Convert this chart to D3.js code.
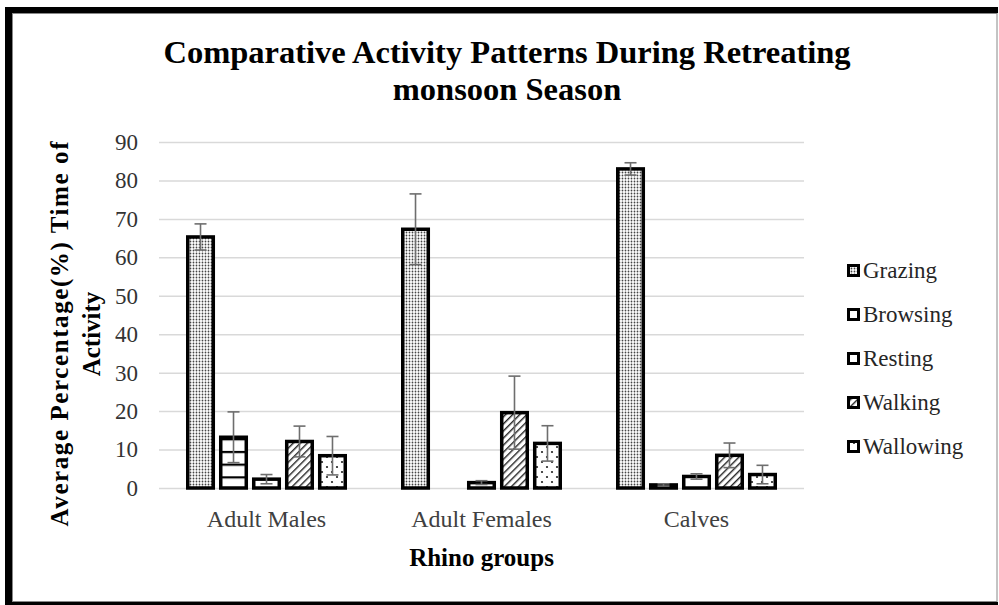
<!DOCTYPE html>
<html lang="en">
<head>
    <meta charset="UTF-8">
    <title>Comparative Activity Patterns</title>
    <script src="https://d3js.org/d3.v7.min.js"></script>
    <style>
        body { margin: 0; background: #fff; }
    </style>
</head>
<body>
    <div id="my_dataviz"></div>

    <script>

        // data
        const groups = ["Adult Males", "Adult Females", "Calves"];
        const series = ["Grazing", "Browsing", "Resting", "Walking", "Wallowing"];
        const meanGrazing   = [65.3, 67.3, 83.0];
        const meanBrowsing  = [13.2, 0, 0.8];
        const meanResting   = [2.3, 1.4, 3.0];
        const meanWalking   = [12.1, 19.6, 8.5];
        const meanWallowing = [8.4, 11.6, 3.5];
        const errGrazing    = [3.4, 9.2, 1.6];
        const errBrowsing   = [6.6, 0, 0.3];
        const errResting    = [1.2, 0.5, 0.7];
        const errWalking    = [4.0, 9.5, 3.2];
        const errWallowing  = [5.0, 4.6, 2.4];
        const yTicks = [0, 10, 20, 30, 40, 50, 60, 70, 80, 90];

        const means = [meanGrazing, meanBrowsing, meanResting, meanWalking, meanWallowing];
        const errs = [errGrazing, errBrowsing, errResting, errWalking, errWallowing];
        const data = [];
        series.forEach((s, i) => groups.forEach((g, j) => {
            data.push({group: g, series: s, value: means[i][j], err: errs[i][j]});
        }));

        const W = 999, H = 605;
        const plot = {left: 159, right: 804, top: 142, bottom: 488};
        const serif = "Liberation Serif";

        const svg = d3.select("#my_dataviz")
        .append("svg")
            .attr("width", W)
            .attr("height", H)
            .attr("font-family", serif);

        // frame
        svg.append("rect").attr("x", 12.5).attr("y", 13.5).attr("width", 984.5).attr("height", 588)
            .attr("fill", "none").attr("stroke", "#888").attr("stroke-width", 1);
        svg.append("rect").attr("x", 5).attr("y", 7).attr("width", 993).attr("height", 6).attr("fill", "#000");
        svg.append("rect").attr("x", 5).attr("y", 7).attr("width", 7).attr("height", 598).attr("fill", "#000");
        svg.append("rect").attr("x", 5).attr("y", 602).attr("width", 993).attr("height", 3).attr("fill", "#000");

        // scales
        const y = d3.scaleLinear()
        .domain([0, 90])
        .range([plot.bottom, plot.top]);

        const x0 = d3.scaleBand()
        .domain(groups)
        .range([plot.left, plot.right]);

        const x1 = d3.scaleBand()
        .domain(series)
        .range([27, 188])
        .paddingInner(0.12);

        // patterns
        const defs = svg.append("defs");
        const pDots = defs.append("pattern").attr("id", "p-Grazing")
            .attr("patternUnits", "userSpaceOnUse").attr("width", 3).attr("height", 3);
        pDots.append("rect").attr("width", 3).attr("height", 3).attr("fill", "#fff");
        pDots.append("circle").attr("cx", 1.5).attr("cy", 1.5).attr("r", 0.9).attr("fill", "#444");

        const pHoriz = defs.append("pattern").attr("id", "p-Browsing")
            .attr("patternUnits", "userSpaceOnUse").attr("width", 8).attr("height", 12.7)
            .attr("patternTransform", `translate(0,${y(0) + 1})`);
        pHoriz.append("rect").attr("width", 8).attr("height", 12.7).attr("fill", "#fff");
        pHoriz.append("rect").attr("width", 8).attr("height", 2.2).attr("fill", "#000");

        const pWhite = defs.append("pattern").attr("id", "p-Resting")
            .attr("patternUnits", "userSpaceOnUse").attr("width", 8).attr("height", 8);
        pWhite.append("rect").attr("width", 8).attr("height", 8).attr("fill", "#fff");

        const pDiag = defs.append("pattern").attr("id", "p-Walking")
            .attr("patternUnits", "userSpaceOnUse").attr("width", 5).attr("height", 5)
            .attr("patternTransform", "rotate(45)");
        pDiag.append("rect").attr("width", 5).attr("height", 5).attr("fill", "#fff");
        pDiag.append("rect").attr("width", 1.4).attr("height", 5).attr("fill", "#222");

        const pSparse = defs.append("pattern").attr("id", "p-Wallowing")
            .attr("patternUnits", "userSpaceOnUse").attr("width", 10).attr("height", 10);
        pSparse.append("rect").attr("width", 10).attr("height", 10).attr("fill", "#fff");
        pSparse.append("circle").attr("cx", 2).attr("cy", 2).attr("r", 1.1).attr("fill", "#222");
        pSparse.append("circle").attr("cx", 7).attr("cy", 7).attr("r", 1.1).attr("fill", "#222");

        // gridlines
        svg.append("g")
            .attr("transform", `translate(${plot.left},0)`)
            .call(d3.axisLeft(y).tickValues(yTicks).tickSize(-(plot.right - plot.left)).tickFormat(""))
            .call(g => g.select(".domain").remove())
            .selectAll("line")
                .attr("stroke", "#d9d9d9")
                .attr("stroke-width", 1.5);

        // Y axis labels
        svg.append("g")
            .attr("transform", `translate(${plot.left},0)`)
            .call(d3.axisLeft(y).tickValues(yTicks).tickSize(0).tickPadding(21))
            .attr("font-family", serif)
            .attr("font-size", 23)
            .call(g => g.select(".domain").remove())
            .selectAll("text")
                .attr("fill", "#333");

        // X axis labels
        svg.append("g")
            .attr("transform", `translate(0,${plot.bottom})`)
            .call(d3.axisBottom(x0).tickSize(0).tickPadding(22))
            .attr("font-family", serif)
            .attr("font-size", 24)
            .call(g => g.select(".domain").remove())
            .selectAll("text")
                .attr("fill", "#404040");

        // Bars
        const bars = svg.append("g");
        bars.selectAll("rect")
        .data(data)
        .join("rect")
            .attr("x", d => x0(d.group) + x1(d.series) + 1.75)
            .attr("y", d => y(d.value))
            .attr("width", x1.bandwidth() - 3.5)
            .attr("height", d => y(0) - y(d.value))
            .attr("fill", d => `url(#p-${d.series})`)
            .attr("stroke", "#000")
            .attr("stroke-width", 3.5);

        // error bars
        const eb = svg.append("g").attr("stroke", "#6e6e6e").attr("stroke-width", 1.6);
        const cx = d => x0(d.group) + x1(d.series) + x1.bandwidth() / 2;
        const withErr = data.filter(d => d.err > 0);
        eb.selectAll(".stem")
        .data(withErr)
        .join("line")
            .attr("x1", cx).attr("x2", cx)
            .attr("y1", d => y(d.value + d.err))
            .attr("y2", d => y(Math.max(0, d.value - d.err)));
        eb.selectAll(".capTop")
        .data(withErr)
        .join("line")
            .attr("x1", d => cx(d) - 6).attr("x2", d => cx(d) + 6)
            .attr("y1", d => y(d.value + d.err))
            .attr("y2", d => y(d.value + d.err));
        eb.selectAll(".capBot")
        .data(withErr)
        .join("line")
            .attr("x1", d => cx(d) - 6).attr("x2", d => cx(d) + 6)
            .attr("y1", d => y(Math.max(0, d.value - d.err)))
            .attr("y2", d => y(Math.max(0, d.value - d.err)));

        // Title
        const title = svg.append("text")
            .attr("text-anchor", "middle")
            .attr("font-size", 32.5)
            .attr("font-weight", "bold")
            .attr("fill", "#000");
        title.append("tspan").attr("x", 507).attr("y", 63).text("Comparative  Activity Patterns During Retreating");
        title.append("tspan").attr("x", 507).attr("y", 100).text("monsoon Season");

        // axis titles
        svg.append("text")
            .attr("x", (plot.left + plot.right) / 2)
            .attr("y", 566)
            .attr("text-anchor", "middle")
            .attr("font-size", 25)
            .attr("font-weight", "bold")
            .text("Rhino groups");

        const yt = svg.append("text")
            .attr("transform", "translate(0,334) rotate(-90)")
            .attr("text-anchor", "middle")
            .attr("font-size", 25)
            .attr("font-weight", "bold");
        yt.append("tspan").attr("x", 0).attr("y", 68)
            .attr("textLength", 385).attr("lengthAdjust", "spacing")
            .text("Average  Percentage(%) Time of");
        yt.append("tspan").attr("x", 0).attr("y", 100).text("Activity");

        // legend
        const legend = svg.append("g")
            .selectAll("g")
            .data(series)
            .join("g")
                .attr("transform", (d, i) => `translate(847,${270 + i * 44})`);
        legend.append("rect")
            .attr("x", 1.5).attr("y", -4.5)
            .attr("width", 10).attr("height", 10)
            .attr("fill", d => `url(#p-${d})`)
            .attr("stroke", "#000")
            .attr("stroke-width", 3);
        legend.append("text")
            .attr("x", 16)
            .attr("y", 8)
            .attr("font-size", 23)
            .attr("fill", "#262626")
            .text(d => d);

    </script>
</body>
</html>
